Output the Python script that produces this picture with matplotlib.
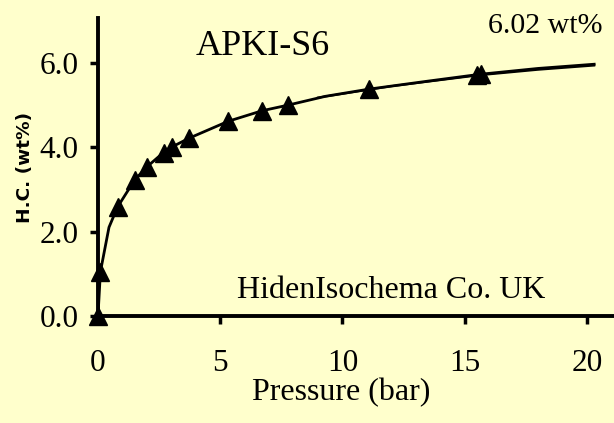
import numpy as np
from matplotlib import pyplot as plt

### Data
# measured isotherm points
pres = [0.0, 0.1, 0.8, 1.5, 2.0, 2.68, 3.02, 3.73, 5.33, 6.72, 7.76, 11.08, 15.5, 15.65]
hc = [0.0, 1.05, 2.58, 3.22, 3.53, 3.87, 4.0, 4.21, 4.61, 4.86, 4.99, 5.37, 5.71, 5.73]
# line through the points, carried on to the axis end
lineP = [0.0, 0.1, 0.45, 0.8, 1.5, 2.0, 2.68, 3.02, 3.73, 5.33, 6.72, 7.76, 9.3, 11.08, 13.5, 15.6, 18.0, 20.3]
lineHC = [0.0, 1.05, 2.1, 2.58, 3.22, 3.53, 3.87, 4.0, 4.21, 4.61, 4.86, 4.99, 5.2, 5.37, 5.56, 5.72, 5.86, 5.96]
# fitted curve
fitP = [9.0, 12.0, 15.6, 18.0, 20.3]
fitHC = [5.17, 5.44, 5.70, 5.83, 5.93]

xTicks = [0, 5, 10, 15, 20]
yTicks = [0.0, 2.0, 4.0, 6.0]
yTickLabels = ['0.0', '2.0', '4.0', '6.0']

bg = '#FFFFCC'
serif = 'Liberation Serif'

### Plot
fig = plt.figure(figsize=(6.14, 4.23), dpi=100)
fig.patch.set_facecolor(bg)
ax = fig.add_axes([0.1596, 0.253, 0.840, 0.704])
ax.set_facecolor(bg)

ax.plot(lineP, lineHC, 'k', lw=2.0, zorder=2)
ax.plot(fitP, fitHC, 'k', lw=1.5, zorder=2)
ax.plot(pres, hc, 'k^', ms=13, zorder=3, clip_on=False)

ax.set_xlim(0, 21.1)
ax.set_ylim(0, 7.05)
ax.set_xticks(xTicks)
ax.set_yticks(yTicks)
ax.set_yticklabels(yTickLabels)

for s in ['top', 'right']:
    ax.spines[s].set_visible(False)
for s in ['left', 'bottom']:
    ax.spines[s].set_linewidth(2.8)
ax.tick_params(axis='both', direction='out', length=6, width=2.5,
               labelsize=22.5)
ax.tick_params(axis='x', pad=18)
ax.tick_params(axis='y', pad=8)
for lab in ax.get_xticklabels() + ax.get_yticklabels():
    lab.set_fontfamily(serif)

ax.set_xlabel('Pressure (bar)', fontsize=23, family=serif)
ax.xaxis.set_label_coords(0.472, -0.207)
ax.set_ylabel('H.C. (wt%)', fontsize=13.3, fontweight='bold',
              family='DejaVu Sans', va='center')
ax.yaxis.set_label_coords(-0.142, 0.5)

ax.text(3.98, 6.19, 'APKI-S6', fontsize=26, family=serif)
ax.text(15.94, 6.69, '6.02 wt%', fontsize=21.5, family=serif, clip_on=False)
ax.text(5.7, 0.43, 'HidenIsochema Co. UK', fontsize=23, family=serif)

fig.savefig('out.png', facecolor=bg)
